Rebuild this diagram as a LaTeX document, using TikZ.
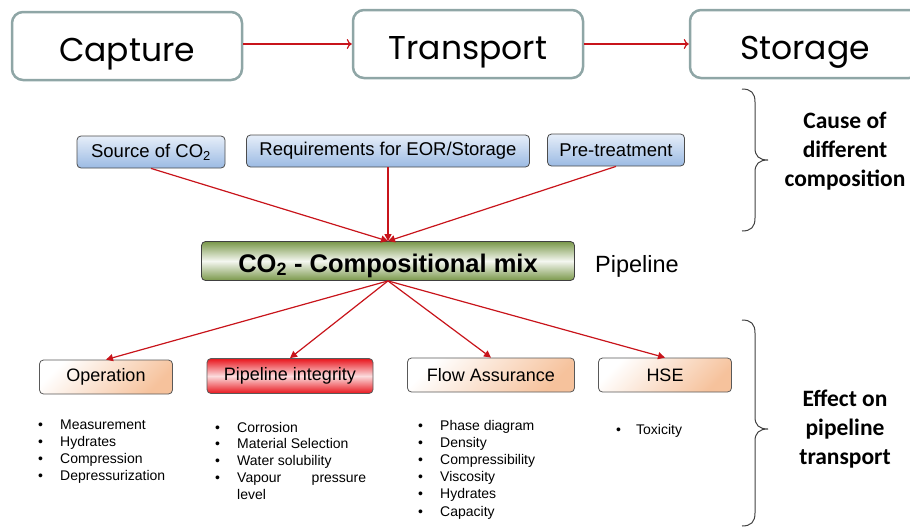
\documentclass[tikz,border=0pt]{standalone}
\usepackage{fontspec}
\setmainfont{Liberation Sans}
\newfontfamily\gothic{Poppins}
\newfontfamily\cali{Carlito}
\usetikzlibrary{arrows.meta,shadings}
\definecolor{tealgray}{HTML}{8FA6A6}
\definecolor{arrred}{HTML}{C8141B}
\definecolor{bluetop}{HTML}{E6EEF9}
\definecolor{bluebot}{HTML}{9BBAE3}
\definecolor{olive}{HTML}{7A984A}
\definecolor{peach}{HTML}{F6C29C}
\definecolor{redfill}{HTML}{E8151C}
\newcommand\bul[2][22pt]{\makebox[#1][l]{\textbullet}#2}
\begin{document}
\begin{tikzpicture}[x=1pt,y=-1pt,
  stage/.style={draw=tealgray, line width=2.5pt, rounded corners=11pt, fill=white,
    minimum width=230pt, minimum height=68pt, inner sep=0pt,
    text height=30pt, text depth=0pt,
    font=\gothic\fontsize{33}{38}\selectfont},
  cause/.style={draw=black!70, line width=0.8pt, rounded corners=4pt,
    top color=bluetop, bottom color=bluebot, minimum height=32pt, inner sep=0pt,
    font=\fontsize{18.5}{22}\selectfont},
  mixbox/.style={draw=black!75, line width=0.8pt, rounded corners=4pt,
    top color=olive, bottom color=olive, middle color=white!92!olive,
    minimum width=373pt, minimum height=39pt, inner sep=0pt,
    text height=22pt, text depth=0pt,
    font=\bfseries\fontsize{25.5}{28}\selectfont},
  effect/.style={draw=black!65, line width=0.8pt, rounded corners=4pt,
    top color=white, bottom color=peach, shading angle=45,
    minimum height=34pt, inner sep=0pt, font=\fontsize{18}{21}\selectfont},
  redbox/.style={effect, top color=redfill, bottom color=redfill, middle color=white!85!redfill},
  flow/.style={draw=arrred, line width=1.2pt, -{To[length=5pt,width=10pt]}},
  link/.style={draw=arrred, line width=1.2pt, -{Triangle[length=7pt,width=7pt]}},
  item/.style={anchor=base west, inner sep=0pt, font=\fontsize{14}{17}\selectfont},
  bracetext/.style={align=center, font=\cali\bfseries\fontsize{23.5}{29}\selectfont},
  brace/.style={draw=black!75, line width=1pt}
]
\useasboundingbox (0,0) rectangle (910,528);

% top row
\node[stage] (cap) at (127,46) {Capture};
\node[stage] (tr) at (468,44) {Transport};
\node[stage] (st) at (805,44) {Storage};
\draw[flow] (cap.east |- tr.west) -- (tr.west);
\draw[flow] (tr.east) -- (st.west);

% causes
\node[cause, minimum width=148pt] (src) at (151,152) {Source of CO\textsubscript{2}};
\node[cause, minimum width=283pt] (req) at (388,151) {Requirements for EOR/Storage};
\node[cause, minimum width=137pt] (pre) at (616,150) {Pre-treatment};

% mix
\node[mixbox] (mix) at (388,261) {CO\textsubscript{2} - Compositional mix};
\node[anchor=base west, inner sep=0pt, font=\fontsize{23.5}{26}\selectfont] (pipe) at (595,272) {Pipeline};

\draw[link] (src.south) -- (mix.north);
\draw[link] (req.south) -- (mix.north);
\draw[link] (pre.south) -- (mix.north);

% effects
\node[effect, minimum width=133pt] (op) at (106,377) {Operation};
\node[redbox, minimum width=166pt, minimum height=35pt] (pi) at (290,376) {Pipeline integrity};
\node[effect, minimum width=167pt] (fa) at (491,375) {Flow Assurance};
\node[effect, minimum width=133pt] (hse) at (665,375) {HSE};

\draw[link] (mix.south) -- (op.north);
\draw[link] (mix.south) -- (pi.north);
\draw[link] (mix.south) -- (fa.north);
\draw[link] (mix.south) -- (hse.north);

% bullet lists
\foreach \t [count=\i] in {Measurement,Hydrates,Compression,Depressurization}
  \node[item] (opl\i) at (38,{429+17.3*(\i-1)}) {\bul{\t}};
\foreach \t [count=\i] in {Corrosion,Material Selection,Water solubility}
  \node[item] (pil\i) at (215,{432+16.9*(\i-1)}) {\bul{\t}};
\node[item] (pil4) at (215,482.7) {\bul{\makebox[129pt][l]{Vapour\hfill pressure}}};
\node[item] (pil5) at (237,499.6) {level};
\foreach \t [count=\i] in {Phase diagram,Density,Compressibility,Viscosity,Hydrates,Capacity}
  \node[item] (fal\i) at (418,{430+17.2*(\i-1)}) {\bul{\t}};
\node[item] (hsel1) at (616,434) {\bul[20pt]{Toxicity}};

% braces
\draw[brace] (742,89) .. controls (751,89) and (755,93) .. (755,102) -- (755,148)
  .. controls (755,156) and (759,160) .. (768,160)
  .. controls (759,160) and (755,164) .. (755,172) -- (755,218)
  .. controls (755,227) and (751,231) .. (742,231);
\draw[brace] (742,320) .. controls (751,320) and (755,324) .. (755,333) -- (755,417)
  .. controls (755,425) and (759,429) .. (768,429)
  .. controls (759,429) and (755,433) .. (755,441) -- (755,513)
  .. controls (755,522) and (751,526) .. (742,526);
\node[bracetext] (cause) at (845,151) {Cause of\\different\\composition};
\node[bracetext] (effect) at (845,429) {Effect on\\pipeline\\transport};
\end{tikzpicture}
\end{document}
